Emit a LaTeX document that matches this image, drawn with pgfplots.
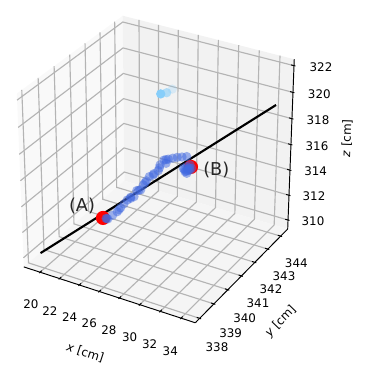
\documentclass[border=0pt]{standalone}
\usepackage{fontspec}
\setmainfont{DejaVu Sans}
\usepackage{pgfplots}
\pgfplotsset{compat=1.18}

\definecolor{rblue}{RGB}{65,105,225}
\definecolor{lsky}{RGB}{135,206,250}
\definecolor{gridc}{RGB}{180,180,180}

% perspective view (elev 30, azim -60, dist 10) of the data box, in image pixels
\pgfplotsset{
  table/proj/.style={
    x expr={projx(\thisrow{x},\thisrow{y},\thisrow{z})},
    y expr={projy(\thisrow{x},\thisrow{y},\thisrow{z})},
  },
  gridl/.style={gridc, line width=0.85pt},
  axl/.style={black, line width=0.72pt},
  dots/.style n args={3}{only marks, mark=*, mark size=#2,
    mark options={draw=#1, fill=#1, line width=0pt, draw opacity=0, fill opacity=#3}},
}
\newcommand{\seg}[7]{\addplot[#1] table[row sep=\\, proj] {x y z\\ #2 #3 #4\\ #5 #6 #7\\};}
\newcommand{\gline}[9]{\addplot[gridl] table[row sep=\\, proj] {x y z\\ #1 #2 #3\\ #4 #5 #6\\ #7 #8 #9\\};}
\newcommand{\lab}[4][0]{\node[font=\fontsize{8.9pt}{10pt}\selectfont, rotate=#1, inner sep=0pt] at (axis cs:#2,#3) {#4};}

\begin{document}
\begin{tikzpicture}[declare function={
    normx(\x)=(\x-26.84)/17.04;
    normy(\y)=(\y-341.131)/6.862;
    normz(\z)=(\z-315.875)/13.21;
    camw(\x,\y,\z)=10-(0.433*normx(\x)-0.75*normy(\y)+0.5*normz(\z));
    projx(\x,\y,\z)=157.8+1980*(0.866*normx(\x)+0.5*normy(\y))/camw(\x,\y,\z);
    projy(\x,\y,\z)=216+1980*(-0.25*normx(\x)+0.433*normy(\y)+0.866*normz(\z))/camw(\x,\y,\z);
  }]
\useasboundingbox (0,0) rectangle (280.5pt,285pt);
\begin{axis}[
    at={(0,0)}, anchor=south west,
    width=280.5pt, height=285pt, scale only axis,
    xmin=0, xmax=374, ymin=0, ymax=380,
    axis lines=none, clip=false,
  ]
  % panes
  \addplot[fill=black!2.5, draw=none] table[row sep=\\, proj] {x y z\\
    18.32 337.70 309.27\\ 18.32 344.56 309.27\\ 18.32 344.56 322.48\\ 18.32 337.70 322.48\\ 18.32 337.70 309.27\\};
  \addplot[fill=black!5, draw=none] table[row sep=\\, proj] {x y z\\
    18.32 344.56 309.27\\ 35.36 344.56 309.27\\ 35.36 344.56 322.48\\ 18.32 344.56 322.48\\ 18.32 344.56 309.27\\};
  \addplot[fill=black!3.75, draw=none] table[row sep=\\, proj] {x y z\\
    18.32 337.70 309.27\\ 35.36 337.70 309.27\\ 35.36 344.56 309.27\\ 18.32 344.56 309.27\\ 18.32 337.70 309.27\\};

  % grid
  \pgfplotsinvokeforeach{20,22,24,26,28,30,32,34}{
    \gline{#1}{337.70}{309.27}{#1}{344.56}{309.27}{#1}{344.56}{322.48}
  }
  \pgfplotsinvokeforeach{338,339,340,341,342,343,344}{
    \gline{35.36}{#1}{309.27}{18.32}{#1}{309.27}{18.32}{#1}{322.48}
  }
  \pgfplotsinvokeforeach{310,312,314,316,318,320,322}{
    \gline{18.32}{337.70}{#1}{18.32}{344.56}{#1}{35.36}{344.56}{#1}
  }

  % axis lines and ticks
  \seg{axl}{18.32}{337.70}{309.27}{35.36}{337.70}{309.27}
  \seg{axl}{35.36}{337.70}{309.27}{35.36}{344.56}{309.27}
  \seg{axl}{35.36}{344.56}{309.27}{35.36}{344.56}{322.48}
  \pgfplotsinvokeforeach{20,22,24,26,28,30,32,34}{
    \seg{axl}{#1}{337.64}{309.27}{#1}{337.81}{309.27}
  }
  \pgfplotsinvokeforeach{338,339,340,341,342,343,344}{
    \seg{axl}{35.50}{#1}{309.27}{35.08}{#1}{309.27}
  }
  \pgfplotsinvokeforeach{310,312,314,316,318,320,322}{
    \seg{axl}{35.50}{344.56}{#1}{35.08}{344.56}{#1}
  }

  % fitted track
  \seg{black, line width=1.6pt}{20.02}{337.76}{310.73}{34.05}{344.34}{318.97}

  % points (A) and (B)
  \addplot[dots={red}{5.3pt}{1}]
    table[row sep=\\, proj] {x y z\\ 23.76 339.47 312.62\\ 29.23 341.77 315.57\\};

  % hits
  \addplot[dots={rblue}{3.5pt}{0.5}]
    table[proj] {
    x y z
    24.00 339.52 312.59
    24.05 339.53 312.58
    24.14 339.54 312.56
    24.42 339.68 312.77
    24.69 339.81 312.98
    24.78 339.87 313.10
    24.86 339.93 313.21
    25.02 340.05 313.43
    25.19 340.16 313.66
    25.38 340.26 313.82
    25.40 340.25 313.75
    25.62 340.33 313.85
    25.69 340.47 314.20
    25.83 340.51 314.22
    25.97 340.55 314.24
    26.06 340.67 314.53
    26.14 340.73 314.66
    26.20 340.78 314.77
    26.33 340.90 315.01
    26.59 340.99 315.11
    26.60 341.02 315.18
    26.87 341.14 315.36
    26.90 341.20 315.52
    26.88 341.26 315.69
    27.07 341.40 315.97
    27.22 341.44 316.00
    27.29 341.39 315.78
    27.37 341.49 316.02
    27.68 341.58 316.08
    28.00 341.67 316.13
    28.35 341.76 316.15
    28.69 341.85 316.17
    28.69 341.61 315.49
    28.91 341.70 315.59
    29.12 341.78 315.69
    29.31 341.76 315.49
    28.89 341.59 315.30
    29.11 341.66 315.36
    29.22 341.70 315.40
    29.05 341.60 315.20
    28.80 341.62 315.42
    29.00 341.68 315.46
    29.15 341.72 315.52
    28.95 341.63 315.32
    };
  \addplot[dots={lsky}{3.5pt}{1}]
    table[row sep=\\, proj] {x y z\\ 25.40 342.34 319.80\\};
  \addplot[dots={lsky}{3.5pt}{0.6}]
    table[row sep=\\, proj] {x y z\\ 25.82 342.46 319.87\\};
  \addplot[dots={lsky}{3.5pt}{0.25}]
    table[row sep=\\, proj] {x y z\\ 26.16 342.61 320.08\\};

  % labels, placed in image pixels
  \lab{31}{76}{20}
  \lab{50}{69.3}{22}
  \lab{69.7}{63}{24}
  \lab{89.3}{56.7}{26}
  \lab{109}{49.7}{28}
  \lab{129.7}{43}{30}
  \lab{149.7}{36.3}{32}
  \lab{170.3}{29}{34}
  \lab{217}{32.7}{338}
  \lab{230.7}{47.3}{339}
  \lab{244.7}{62}{340}
  \lab{258}{76.7}{341}
  \lab{271}{90.7}{342}
  \lab{284}{104}{343}
  \lab{296.3}{117.3}{344}
  \lab{321}{313.3}{322}
  \lab{319.3}{286.3}{320}
  \lab{318}{260.3}{318}
  \lab{317}{234.3}{316}
  \lab{315.7}{208.7}{314}
  \lab{314}{184}{312}
  \lab{313}{159}{310}
  \lab[-18]{85.3}{27.3}{\textit{x} [cm]}
  \lab[46]{280.7}{58.3}{\textit{y} [cm]}
  \lab[88]{347}{241.7}{\textit{z} [cm]}
  \node[font=\fontsize{13.3pt}{15pt}\selectfont, text=black!85, inner sep=0pt] at (axis cs:82,174.3) {(A)};
  \node[font=\fontsize{13.3pt}{15pt}\selectfont, text=black!85, inner sep=0pt] at (axis cs:216.3,210) {(B)};
\end{axis}
\end{tikzpicture}
\end{document}
